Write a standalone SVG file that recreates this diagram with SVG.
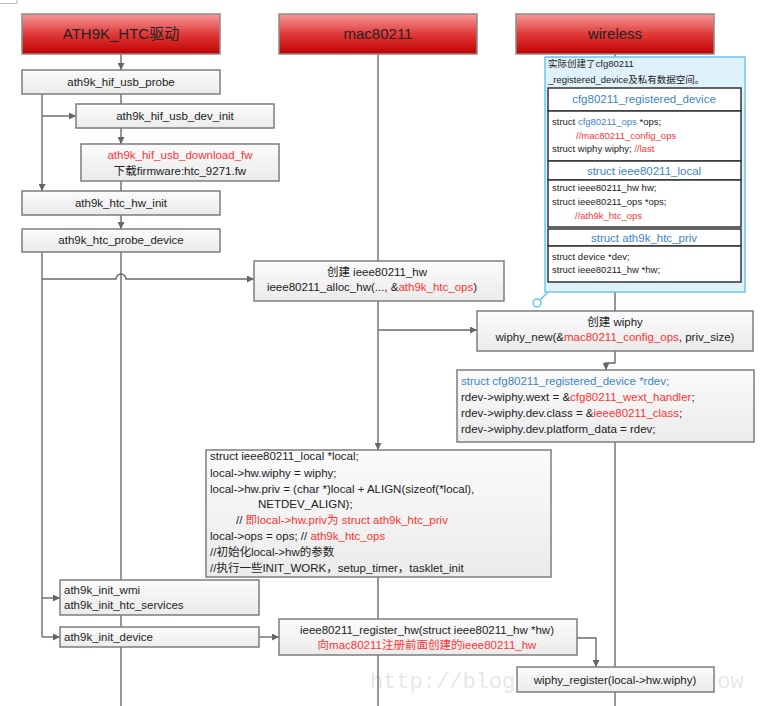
<svg xmlns="http://www.w3.org/2000/svg" width="760" height="706" viewBox="0 0 760 706">
<defs>
<linearGradient id="hdr" x1="0" y1="0" x2="0" y2="1">
<stop offset="0" stop-color="#f79a9a"/>
<stop offset="0.5" stop-color="#e03a3a"/>
<stop offset="1" stop-color="#c00000"/>
</linearGradient>
<linearGradient id="nd" x1="0" y1="0" x2="0" y2="1">
<stop offset="0" stop-color="#fbfbfb"/>
<stop offset="1" stop-color="#ebebeb"/>
</linearGradient>
<marker id="ar" viewBox="0 0 10 10" refX="10" refY="5" markerWidth="7" markerHeight="7" markerUnits="userSpaceOnUse" orient="auto">
<path d="M0,0 L10,5 L0,10 z" fill="#666"/>
</marker>
</defs>
<style>
.h{fill:url(#hdr);stroke:#8a8a8a;stroke-width:1.5}
.n{fill:url(#nd);stroke:#7d7d7d;stroke-width:1.5}
.t{font-family:"Liberation Sans","Noto Sans CJK SC",sans-serif;font-size:11.5px;fill:#222}
.ht{font-family:"Liberation Sans","Noto Sans CJK SC",sans-serif;font-size:15px;fill:#222;text-anchor:middle}
.s{font-family:"Liberation Sans","Noto Sans CJK SC",sans-serif;font-size:9.5px;fill:#222}
.c{text-anchor:middle}
.r{fill:#f33}
.b{fill:#3d85c6}
.l{fill:none;stroke:#6a6a6a;stroke-width:1.4}
.la{fill:none;stroke:#6a6a6a;stroke-width:1.4;marker-end:url(#ar)}
.tb{fill:#fff;stroke:#333;stroke-width:1.5}
.wm{font-family:"Liberation Mono",monospace;font-size:22px;fill:#aaa;fill-opacity:0.3}
</style>

<path d="M0,3.5 H17 V0" fill="none" stroke="#bbb" stroke-width="1"/>

<text class="wm" x="370" y="688">http://blog</text>
<text class="wm" x="704" y="688">row</text>

<g id="connectors">
<path class="la" d="M121,54 V70"/>
<path class="l" d="M121,94 V104"/>
<path class="la" d="M121,128 V144"/>
<path class="l" d="M121,181 V191"/>
<path class="la" d="M121,215 V229"/>
<path class="l" d="M121,252 V706"/>
<path class="la" d="M42,94 V191"/>
<path class="la" d="M42,116 H76"/>
<path class="l" d="M42,252 V637"/>
<path class="la" d="M42,279 H116 A5,5 0 0 1 126,279 H254"/>
<path class="la" d="M42,598 H60"/>
<path class="la" d="M42,637 H60"/>
<path class="la" d="M259,637 H279"/>
<path class="l" d="M378,54 V261"/>
<path class="la" d="M378,301 V450"/>
<path class="la" d="M378,330 H477"/>
<path class="l" d="M378,577 V619"/>
<path class="l" d="M378,655 V706"/>
<path class="la" d="M577,638 H596 V667"/>
<path class="l" d="M615,54 V58"/>
<path class="l" d="M615,292 V311"/>
<path class="l" d="M615,351 V363 H606"/>
<path class="la" d="M606,362 V370"/>
<path class="l" d="M615,442 V667"/>
<path class="l" d="M615,692 V706"/>
</g>

<g id="hdr-ath9k"><rect class="h" x="22" y="14" width="198" height="40"/><text class="ht" x="121" y="39">ATH9K_HTC驱动</text></g>
<g id="hdr-mac80211"><rect class="h" x="279" y="14" width="198" height="40"/><text class="ht" x="378" y="39">mac80211</text></g>
<g id="hdr-wireless"><rect class="h" x="516" y="14" width="198" height="40"/><text class="ht" x="615" y="39">wireless</text></g>

<g id="usb-probe"><rect class="n" x="22" y="70" width="198" height="24"/><text class="t c" x="121" y="86">ath9k_hif_usb_probe</text></g>
<g id="usb-dev-init"><rect class="n" x="76" y="104" width="198" height="24"/><text class="t c" x="175" y="120">ath9k_hif_usb_dev_init</text></g>
<g id="download-fw"><rect class="n" x="81" y="144" width="198" height="37"/><text class="t c r" x="180" y="159">ath9k_hif_usb_download_fw</text><text class="t c" x="180" y="175">下载firmware:htc_9271.fw</text></g>
<g id="htc-hw-init"><rect class="n" x="22" y="191" width="198" height="24"/><text class="t c" x="121" y="207">ath9k_htc_hw_init</text></g>
<g id="htc-probe-device"><rect class="n" x="22" y="229" width="198" height="23"/><text class="t c" x="121" y="244">ath9k_htc_probe_device</text></g>

<g id="alloc-hw"><rect class="n" x="254" y="261" width="250" height="40"/><text class="t c" x="377" y="276">创建 ieee80211_hw</text><text class="t c" x="372" y="291">ieee80211_alloc_hw(..., &amp;<tspan class="r">ath9k_htc_ops</tspan>)</text></g>

<g id="wiphy-new"><rect class="n" x="477" y="311" width="276" height="40"/><text class="t c" x="615" y="326">创建 wiphy</text><text class="t c" x="615" y="341">wiphy_new(&amp;<tspan class="r">mac80211_config_ops</tspan>, priv_size)</text></g>

<g id="rdev"><rect class="n" x="457" y="370" width="297" height="72"/>
<text class="t" x="461" y="385"><tspan class="b">struct cfg80211_registered_device *rdev;</tspan></text>
<text class="t" x="461" y="401">rdev-&gt;wiphy.wext = &amp;<tspan class="r">cfg80211_wext_handler</tspan>;</text>
<text class="t" x="461" y="417">rdev-&gt;wiphy.dev.class = &amp;<tspan class="r">ieee80211_class</tspan>;</text>
<text class="t" x="461" y="433">rdev-&gt;wiphy.dev.platform_data = rdev;</text>
</g>

<g id="local"><rect class="n" x="206" y="450" width="345" height="127"/>
<text class="t" x="210" y="460">struct ieee80211_local *local;</text>
<text class="t" x="210" y="477">local-&gt;hw.wiphy = wiphy;</text>
<text class="t" x="210" y="493">local-&gt;hw.priv = (char *)local + ALIGN(sizeof(*local),</text>
<text class="t" x="258" y="508">NETDEV_ALIGN);</text>
<text class="t" x="236" y="524">// <tspan class="r">即local-&gt;hw.priv为 struct ath9k_htc_priv</tspan></text>
<text class="t" x="210" y="540">local-&gt;ops = ops; // <tspan class="r">ath9k_htc_ops</tspan></text>
<text class="t" x="210" y="556">//初始化local-&gt;hw的参数</text>
<text class="t" x="210" y="572">//执行一些INIT_WORK，setup_timer，tasklet_init</text>
</g>

<g id="init-wmi"><rect class="n" x="60" y="580" width="199" height="35"/><text class="t" x="64" y="594">ath9k_init_wmi</text><text class="t" x="64" y="609">ath9k_init_htc_services</text></g>
<g id="init-device"><rect class="n" x="60" y="627" width="199" height="20"/><text class="t" x="64" y="641">ath9k_init_device</text></g>

<g id="register-hw"><rect class="n" x="279" y="619" width="298" height="36"/><text class="t c" x="427" y="634">ieee80211_register_hw(struct ieee80211_hw *hw)</text><text class="t c r" x="427" y="649">向mac80211注册前面创建的ieee80211_hw</text></g>

<g id="wiphy-register"><rect class="n" x="517" y="667" width="197" height="25"/><text class="t c" x="615" y="684">wiphy_register(local-&gt;hw.wiphy)</text></g>

<g id="note">
<path d="M548,292 L540,300" fill="none" stroke="#5fc2ee" stroke-width="1.5"/>
<circle cx="537" cy="303" r="4" fill="#fff" stroke="#5fc2ee" stroke-width="1.5"/>
<rect x="545" y="57" width="200" height="235" fill="#dff1fa" stroke="#6cc6ec" stroke-width="1.5"/>
<text class="s" x="548" y="67">实际创建了cfg80211</text>
<text class="s" x="548" y="83">_registered_device及私有数据空间。</text>
<rect class="tb" x="548" y="88" width="193" height="23"/>
<text class="t c b" x="644" y="103">cfg80211_registered_device</text>
<rect class="tb" x="548" y="111" width="193" height="50"/>
<text class="s" x="552" y="125">struct <tspan class="b">cfg80211_ops</tspan> *ops;</text>
<text class="s r" x="576" y="139">//mac80211_config_ops</text>
<text class="s" x="552" y="152">struct wiphy wiphy; <tspan class="r">//last</tspan></text>
<rect class="tb" x="548" y="161" width="193" height="19"/>
<text class="t c b" x="644" y="175">struct ieee80211_local</text>
<rect class="tb" x="548" y="180" width="193" height="47"/>
<text class="s" x="552" y="191">struct ieee80211_hw hw;</text>
<text class="s" x="552" y="205">struct ieee80211_ops *ops;</text>
<text class="s r" x="575" y="219">//ath9k_htc_ops</text>
<rect class="tb" x="548" y="229" width="193" height="17"/>
<text class="t c b" x="644" y="242">struct ath9k_htc_priv</text>
<rect class="tb" x="548" y="246" width="193" height="36"/>
<text class="s" x="552" y="260">struct device *dev;</text>
<text class="s" x="552" y="273">struct ieee80211_hw *hw;</text>
</g>
</svg>
